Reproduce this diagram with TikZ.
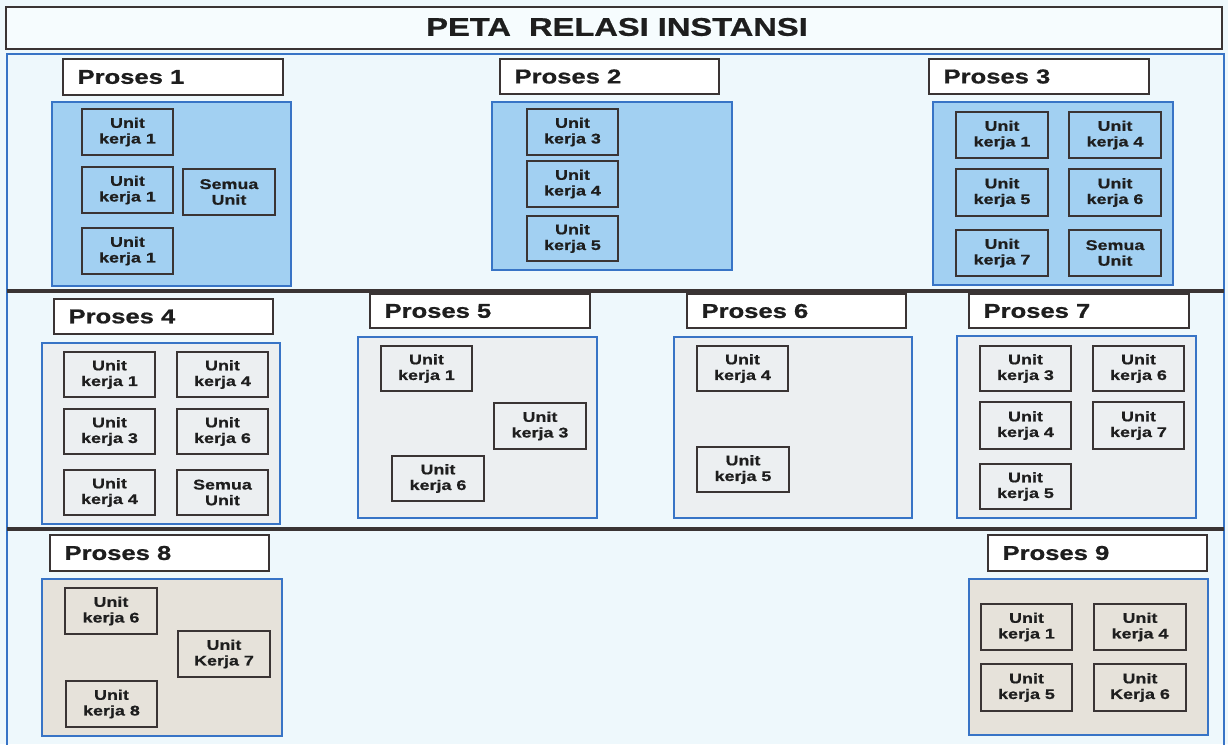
\documentclass[tikz,border=0pt]{standalone}
\usepackage{fontspec}
\setmainfont{Liberation Sans}[FakeStretch=1.28, BoldFeatures={FakeBold=0.8}]
\definecolor{bgc}{HTML}{EEF8FC}
\definecolor{titlefill}{HTML}{F6FCFE}
\definecolor{bluefill}{HTML}{A2D0F2}
\definecolor{greyfill}{HTML}{ECEFF1}
\definecolor{beigefill}{HTML}{E6E2DA}
\definecolor{blueline}{HTML}{3874C6}
\definecolor{darkline}{HTML}{3A3434}
\definecolor{txt}{HTML}{1E1E1E}
\newcommand\ubox[6]{\node[unitbox, minimum width={#3-#1}, minimum height={#4-#2}] (#5) at ({(#1+#3)/2},{(#2+#4)/2}) {#6};}
\newcommand\cbox[6]{\node[contbox, fill=#6, minimum width={#3-#1}, minimum height={#4-#2}] (#5) at ({(#1+#3)/2},{(#2+#4)/2}) {};}
\newcommand\lbox[6]{\node[labelbox, minimum width={#3-#1}, minimum height={#4-#2}] (#5) at ({(#1+#3)/2},{(#2+#4)/2}) {};
  \node[labeltext, anchor=west] (#5t) at ([xshift=15pt]#5.west) {#6};}
\begin{document}
\begin{tikzpicture}[x=1pt,y=-1pt,
  unitbox/.style={draw=darkline, line width=1.3pt, inner sep=0pt, align=center,
    font=\fontsize{14}{15.7}\selectfont\bfseries, text=txt},
  contbox/.style={draw=blueline, line width=2.4pt, inner sep=0pt},
  labelbox/.style={draw=darkline, line width=1.3pt, fill=white, inner sep=0pt},
  labeltext/.style={font=\fontsize{20}{22}\selectfont\bfseries, text=txt, inner sep=0pt},
  sepline/.style={draw=darkline, line width=3.5pt}]
\useasboundingbox (0,0) rectangle (1228,744);
\fill[bgc] (0,0) rectangle (1228,744);
% title
\node[draw=darkline, line width=1.2pt, fill=titlefill, minimum width=1216, minimum height=42, inner sep=0pt] (title) at (614,28) {};
\node[font=\fontsize{25.5}{28}\selectfont\bfseries, text=txt, inner sep=0pt] (titletext) at (617,27) {PETA\ \ RELASI INSTANSI};
% main frame
\draw[blueline, line width=2.4pt] (7,760) -- (7,54) -- (1224,54) -- (1224,760);
% separators
\coordinate (s1l) at (7,291); \coordinate (s1r) at (1224,291);
\coordinate (s2l) at (7,529); \coordinate (s2r) at (1224,529);
\draw[sepline] (s1l) -- (s1r);
\draw[sepline] (s2l) -- (s2r);

% Proses 1
\lbox{63}{59}{283}{95}{l1}{Proses 1}
\cbox{52}{102}{291}{286}{c1}{bluefill}
\ubox{82}{109}{173}{155}{u1a}{Unit\\kerja 1}
\ubox{82}{167}{173}{213}{u1b}{Unit\\kerja 1}
\ubox{82}{228}{173}{274}{u1c}{Unit\\kerja 1}
\ubox{183}{169}{275}{215}{u1d}{Semua\\Unit}

% Proses 2
\lbox{500}{59}{719}{94}{l2}{Proses 2}
\cbox{492}{102}{732}{270}{c2}{bluefill}
\ubox{527}{109}{618}{155}{u2a}{Unit\\kerja 3}
\ubox{527}{161}{618}{207}{u2b}{Unit\\kerja 4}
\ubox{527}{216}{618}{261}{u2c}{Unit\\kerja 5}

% Proses 3
\lbox{929}{59}{1149}{94}{l3}{Proses 3}
\cbox{933}{102}{1173}{285}{c3}{bluefill}
\ubox{956}{112}{1048}{158}{u3a}{Unit\\kerja 1}
\ubox{1069}{112}{1161}{158}{u3b}{Unit\\kerja 4}
\ubox{956}{169}{1048}{216}{u3c}{Unit\\kerja 5}
\ubox{1069}{169}{1161}{216}{u3d}{Unit\\kerja 6}
\ubox{956}{230}{1048}{276}{u3e}{Unit\\kerja 7}
\ubox{1069}{230}{1161}{276}{u3f}{Semua\\Unit}

% Proses 4
\lbox{54}{299}{273}{334}{l4}{Proses 4}
\cbox{42}{343}{280}{524}{c4}{greyfill}
\ubox{64}{352}{155}{397}{u4a}{Unit\\kerja 1}
\ubox{177}{352}{268}{397}{u4b}{Unit\\kerja 4}
\ubox{64}{409}{155}{454}{u4c}{Unit\\kerja 3}
\ubox{177}{409}{268}{454}{u4d}{Unit\\kerja 6}
\ubox{64}{470}{155}{515}{u4e}{Unit\\kerja 4}
\ubox{177}{470}{268}{515}{u4f}{Semua\\Unit}

% Proses 5
\lbox{370}{294}{590}{328}{l5}{Proses 5}
\cbox{358}{337}{597}{518}{c5}{greyfill}
\ubox{381}{346}{472}{391}{u5a}{Unit\\kerja 1}
\ubox{494}{403}{586}{449}{u5b}{Unit\\kerja 3}
\ubox{392}{456}{484}{501}{u5c}{Unit\\kerja 6}

% Proses 6
\lbox{687}{294}{906}{328}{l6}{Proses 6}
\cbox{674}{337}{912}{518}{c6}{greyfill}
\ubox{697}{346}{788}{391}{u6a}{Unit\\kerja 4}
\ubox{697}{447}{789}{492}{u6b}{Unit\\kerja 5}

% Proses 7
\lbox{969}{294}{1189}{328}{l7}{Proses 7}
\cbox{957}{336}{1196}{518}{c7}{greyfill}
\ubox{980}{346}{1071}{391}{u7a}{Unit\\kerja 3}
\ubox{1093}{346}{1184}{391}{u7b}{Unit\\kerja 6}
\ubox{980}{402}{1071}{449}{u7c}{Unit\\kerja 4}
\ubox{1093}{402}{1184}{449}{u7d}{Unit\\kerja 7}
\ubox{980}{464}{1071}{509}{u7e}{Unit\\kerja 5}

% Proses 8
\lbox{50}{535}{269}{571}{l8}{Proses 8}
\cbox{42}{579}{282}{736}{c8}{beigefill}
\ubox{65}{588}{157}{634}{u8a}{Unit\\kerja 6}
\ubox{178}{631}{270}{677}{u8b}{Unit\\Kerja 7}
\ubox{66}{681}{157}{727}{u8c}{Unit\\kerja 8}

% Proses 9
\lbox{988}{535}{1207}{571}{l9}{Proses 9}
\cbox{969}{579}{1208}{735}{c9}{beigefill}
\ubox{981}{604}{1072}{650}{u9a}{Unit\\kerja 1}
\ubox{1094}{604}{1186}{650}{u9b}{Unit\\kerja 4}
\ubox{981}{664}{1072}{711}{u9c}{Unit\\kerja 5}
\ubox{1094}{664}{1186}{711}{u9d}{Unit\\Kerja 6}
\end{tikzpicture}
\end{document}
